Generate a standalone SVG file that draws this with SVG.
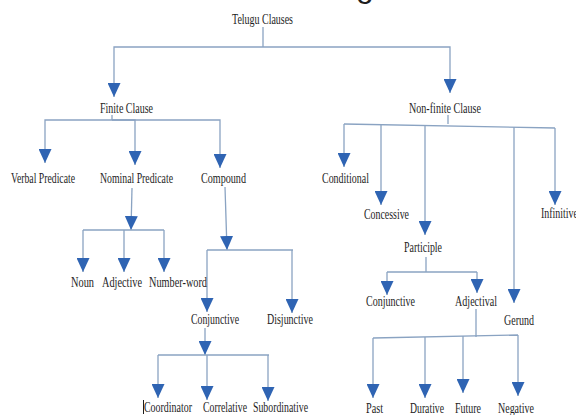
<svg xmlns="http://www.w3.org/2000/svg" width="576" height="415" viewBox="0 0 576 415">
<defs>
<style>
.t{font-family:"Liberation Serif","Times New Roman",serif;font-size:14px;fill:#1e1e1e}
.c path{fill:none;stroke:#8aa3c2;stroke-width:1.3}
.c path.a{marker-end:url(#ah)}
</style>
<marker id="ah" markerUnits="userSpaceOnUse" markerWidth="15" markerHeight="13" refX="14" refY="6.5" orient="auto" viewBox="0 0 15 13">
<path d="M0,0 L14,6.5 L0,13 z" fill="#2f64b3"/>
</marker>
</defs>
<rect width="576" height="415" fill="#ffffff"/>
<text x="356" y="-3" style="font-family:'Liberation Sans',sans-serif;font-size:32px;fill:#1e1e1e">g</text>
<g class="c" id="connectors">
<path d="M263,27 V47"/>
<path class="a" d="M263,47 H114 V97"/>
<path class="a" d="M263,47 H450 V93"/>
<path d="M112,115 V120"/>
<path class="a" d="M112,120 H45 V163"/>
<path class="a" d="M112,120 H135 V165"/>
<path class="a" d="M112,120 H220 V168"/>
<path class="a" d="M132,188 L131,230"/>
<path d="M83,230 H164"/>
<path class="a" d="M83,230 V272"/>
<path class="a" d="M124,230 V272"/>
<path class="a" d="M164,230 V272"/>
<path class="a" d="M225,187 L227,250"/>
<path d="M207,250 H293"/>
<path class="a" d="M207,250 V312"/>
<path class="a" d="M292,250 V313"/>
<path class="a" d="M205,328 V355"/>
<path d="M158,355 H269"/>
<path class="a" d="M158,355 V398"/>
<path class="a" d="M207,355 V400"/>
<path class="a" d="M268,355 V401"/>
<path d="M448,115 V124"/>
<path d="M344,124 L555,128"/>
<path class="a" d="M344,124 V167"/>
<path class="a" d="M381,125 V205"/>
<path class="a" d="M425,125 V235"/>
<path class="a" d="M514,127 V303"/>
<path class="a" d="M555,128 V205"/>
<path d="M426,257 V272"/>
<path d="M387,272 H477"/>
<path class="a" d="M387,272 V295"/>
<path class="a" d="M477,272 V293"/>
<path d="M476,309 V337"/>
<path d="M373,338 L518,335"/>
<path class="a" d="M373,338 V398"/>
<path class="a" d="M425,337 V398"/>
<path class="a" d="M463,336 V393"/>
<path class="a" d="M518,335 V396"/>
</g>
<g id="telugu-clauses"><text class="t" x="232" y="24" textLength="61" lengthAdjust="spacingAndGlyphs">Telugu Clauses</text></g>
<g id="finite-clause"><text class="t" x="100" y="113" textLength="53" lengthAdjust="spacingAndGlyphs">Finite Clause</text></g>
<g id="non-finite-clause"><text class="t" x="409" y="113" textLength="72" lengthAdjust="spacingAndGlyphs">Non-finite Clause</text></g>
<g id="verbal-predicate"><text class="t" x="11" y="183" textLength="64" lengthAdjust="spacingAndGlyphs">Verbal Predicate</text></g>
<g id="nominal-predicate"><text class="t" x="100" y="183" textLength="73" lengthAdjust="spacingAndGlyphs">Nominal Predicate</text></g>
<g id="compound"><text class="t" x="201" y="183" textLength="45" lengthAdjust="spacingAndGlyphs">Compound</text></g>
<g id="conditional"><text class="t" x="322" y="183" textLength="47" lengthAdjust="spacingAndGlyphs">Conditional</text></g>
<g id="concessive"><text class="t" x="364" y="219" textLength="45" lengthAdjust="spacingAndGlyphs">Concessive</text></g>
<g id="infinitive"><text class="t" x="541" y="218" textLength="37" lengthAdjust="spacingAndGlyphs">Infinitive</text></g>
<g id="participle"><text class="t" x="404" y="252" textLength="38" lengthAdjust="spacingAndGlyphs">Participle</text></g>
<g id="noun"><text class="t" x="71" y="287" textLength="23" lengthAdjust="spacingAndGlyphs">Noun</text></g>
<g id="adjective"><text class="t" x="102" y="287" textLength="40" lengthAdjust="spacingAndGlyphs">Adjective</text></g>
<g id="number-word"><text class="t" x="149" y="287" textLength="58" lengthAdjust="spacingAndGlyphs">Number-word</text></g>
<g id="conjunctive-clause"><text class="t" x="191" y="324" textLength="48" lengthAdjust="spacingAndGlyphs">Conjunctive</text></g>
<g id="disjunctive"><text class="t" x="267" y="324" textLength="46" lengthAdjust="spacingAndGlyphs">Disjunctive</text></g>
<g id="coordinator"><rect x="143" y="400" width="1" height="14" fill="#1e1e1e"/><text class="t" x="144" y="412" textLength="48" lengthAdjust="spacingAndGlyphs">Coordinator</text></g>
<g id="correlative"><text class="t" x="203" y="412" textLength="44" lengthAdjust="spacingAndGlyphs">Correlative</text></g>
<g id="subordinative"><text class="t" x="253" y="412" textLength="55" lengthAdjust="spacingAndGlyphs">Subordinative</text></g>
<g id="conjunctive-participle"><text class="t" x="366" y="306" textLength="49" lengthAdjust="spacingAndGlyphs">Conjunctive</text></g>
<g id="adjectival"><text class="t" x="455" y="306" textLength="42" lengthAdjust="spacingAndGlyphs">Adjectival</text></g>
<g id="gerund"><text class="t" x="504" y="325" textLength="30" lengthAdjust="spacingAndGlyphs">Gerund</text></g>
<g id="past"><text class="t" x="366" y="413" textLength="17" lengthAdjust="spacingAndGlyphs">Past</text></g>
<g id="durative"><text class="t" x="410" y="413" textLength="34" lengthAdjust="spacingAndGlyphs">Durative</text></g>
<g id="future"><text class="t" x="455" y="413" textLength="26" lengthAdjust="spacingAndGlyphs">Future</text></g>
<g id="negative"><text class="t" x="498" y="413" textLength="36" lengthAdjust="spacingAndGlyphs">Negative</text></g>
</svg>
